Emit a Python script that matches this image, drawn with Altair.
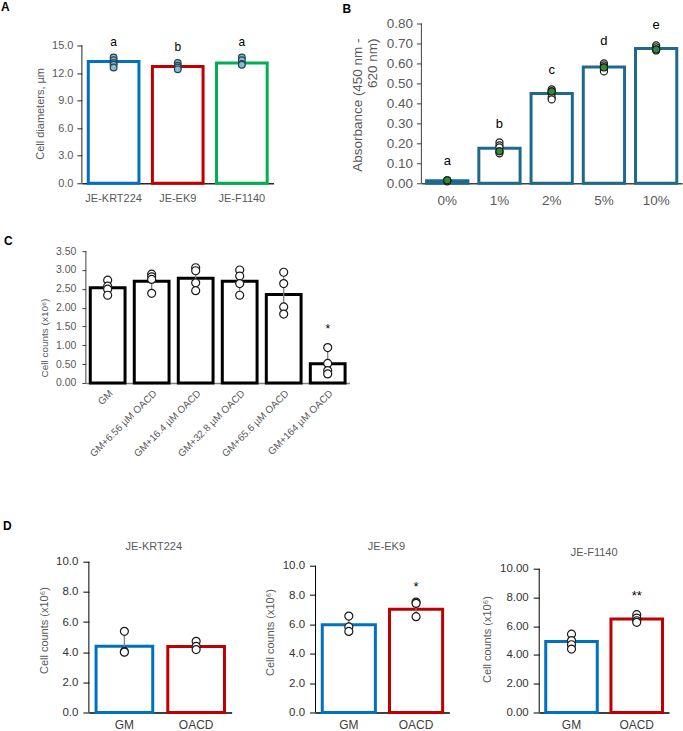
import altair as alt
import pandas as pd

FONT = "Liberation Sans"
GRAY = "#595959"
DARK = "#262626"

# ---------------- A: cell diameters ----------------
a_cats = ["JE-KRT224", "JE-EK9", "JE-F1140"]
a_means = [13.25, 12.7, 13.1]
a_colors = ["#0070C0", "#C00000", "#00B050"]
a_pts = [[13.7, 13.4, 13.1, 12.9, 12.6],
         [13.1, 12.8, 12.6, 12.4],
         [13.7, 13.4, 13.0, 12.9]]
a_letters = ["a", "b", "a"]
a_letter_y = [14.9, 14.4, 14.9]

# ---------------- B: absorbance ----------------
b_cats = ["0%", "1%", "2%", "5%", "10%"]
b_means = [0.012, 0.175, 0.45, 0.582, 0.675]
b_pts = [[0.015, 0.012, 0.010],
         [0.205, 0.19, 0.18, 0.16, 0.15],
         [0.47, 0.46, 0.45, 0.43, 0.42],
         [0.60, 0.59, 0.58, 0.57, 0.56],
         [0.69, 0.68, 0.67, 0.665]]
b_green = [[1, 0, 0], [0, 0, 0, 1, 0], [0, 1, 0, 0, 0], [0, 0, 1, 0, 0], [0, 0, 1, 0]]
b_letters = ["a", "b", "c", "d", "e"]
b_letter_y = [0.09, 0.275, 0.545, 0.69, 0.77]

# ---------------- C: OACD dose ----------------
c_cats = ["GM", "GM+6.56 µM OACD", "GM+16.4 µM OACD", "GM+32.8 µM OACD",
          "GM+65.6 µM OACD", "GM+164 µM OACD"]
c_means = [2.53, 2.70, 2.78, 2.70, 2.35, 0.51]
c_sd = [0.17, 0.22, 0.29, 0.29, 0.52, 0.32]
c_pts = [[2.73, 2.57, 2.49, 2.33],
         [2.89, 2.82, 2.75, 2.38],
         [3.06, 2.98, 2.66, 2.45],
         [3.00, 2.84, 2.64, 2.33],
         [2.94, 2.64, 2.02, 1.83],
         [0.94, 0.52, 0.33, 0.24]]
c_sig = ["", "", "", "", "", "*"]
c_sig_y = 1.32

# ---------------- D: GM vs OACD per line ----------------
d_lines = ["JE-KRT224", "JE-EK9", "JE-F1140"]
d_cats = ["GM", "OACD"]
d_colors = ["#0070C0", "#C00000"]
d_means = [[4.39, 4.38], [5.97, 7.03], [4.94, 6.50]]
d_sd = [[0.70, 0.28], [0.50, 0.55], [0.42, 0.24]]
d_pts = [[[5.38, 4.05, 4.00], [4.72, 4.39, 4.17]],
         [[6.57, 5.83, 5.52], [7.52, 7.43, 6.53]],
         [[5.45, 5.00, 4.71, 4.41], [6.80, 6.57, 6.38, 6.27]]]
d_sig = [["", ""], ["", "*"], ["", "**"]]
d_sig_y = [0, 8.25, 7.85]
d_fmt = [".1f", ".1f", ".2f"]

YTITLE_COUNTS = "Cell counts (x10⁶)"


def frame(w, h, box):
    """Invisible diagonal rule that fixes a cell's outer extent (left, top, right, bottom)."""
    left, top, right, bottom = box
    return (alt.Chart(pd.DataFrame({"v": [0]}))
            .mark_rule(opacity=0, strokeOpacity=0)
            .encode(x=alt.value(-left), y=alt.value(-top),
                    x2=alt.value(w + right), y2=alt.value(h + bottom)))


def spacer():
    return (alt.layer(frame(1, 1, (0, 0, 0, 0)))
            .properties(width=1, height=1))


def note(text, x, y, size, color="black", weight="normal", angle=0,
         align="center", baseline="middle", line_height=None):
    kw = dict(align=align, baseline=baseline, fontSize=size, color=color,
              fontWeight=weight, font=FONT)
    if angle:
        kw["angle"] = angle
    if isinstance(text, list):
        kw["lineBreak"] = "\n"
        text = "\n".join(text)
        if line_height:
            kw["lineHeight"] = line_height
    return (alt.Chart(pd.DataFrame({"t": [text]}))
            .mark_text(**kw)
            .encode(text="t:N", x=alt.value(x), y=alt.value(y)))


def bar_panel(cats, means, bar_colors, pts, width, frame_h, axis_h, ymax, yaxis, xaxis,
              box, axis_color, point_size=60, point_stroke="black", point_fill=None,
              sd=None, letters=None, letter_y=None, letter_size=12, notes=()):
    # the value axis occupies the lower axis_h pixels of a frame_h-tall plot
    ytop = ymax * frame_h / axis_h
    x_enc = alt.X("cat:N", sort=cats,
                  scale=alt.Scale(domain=cats, paddingInner=0.21, paddingOuter=0.1),
                  axis=xaxis, title=None)

    def y_enc(field):
        return alt.Y(field, type="quantitative",
                     scale=alt.Scale(domain=[0, ytop], nice=False, zero=True),
                     axis=yaxis)

    bars_df = pd.DataFrame({"cat": cats, "val": means, "col": bar_colors})
    layers = [
        alt.Chart(bars_df).mark_bar(fill="white", strokeWidth=3)
        .encode(x=x_enc, y=y_enc("val"), stroke=alt.Stroke("col:N", scale=None))
    ]
    # value-axis line, from 0 to the top tick
    layers.append(alt.Chart(pd.DataFrame({"lo": [0], "hi": [ymax]}))
                  .mark_rule(color=axis_color, strokeWidth=1)
                  .encode(x=alt.value(0), y=y_enc("lo"), y2="hi:Q"))
    if sd is not None:
        err_df = pd.DataFrame({"cat": cats,
                               "lo": [m - s for m, s in zip(means, sd)],
                               "hi": [m + s for m, s in zip(means, sd)]})
        layers.append(alt.Chart(err_df).mark_rule(color="#808080", strokeWidth=1.3)
                      .encode(x=x_enc, y=y_enc("lo"), y2="hi:Q"))
    rows = []
    for i, (c, vals) in enumerate(zip(cats, pts)):
        for v in vals:
            rows.append({"cat": c, "val": v})
    pts_df = pd.DataFrame(rows)
    layers.append(alt.Chart(pts_df).mark_point(shape="circle", filled=True,
                                               fill=point_fill or "white",
                                               stroke=point_stroke, strokeWidth=1.2,
                                               size=point_size, opacity=1)
                  .encode(x=x_enc, y=y_enc("val")))
    if letters is not None:
        let_df = pd.DataFrame({"cat": cats, "val": letter_y, "t": letters})
        layers.append(alt.Chart(let_df).mark_text(baseline="alphabetic", fontSize=letter_size,
                                                  color="black", font=FONT)
                      .encode(x=x_enc, y=y_enc("val"), text="t:N"))
    layers.extend(notes)
    layers.append(frame(width, frame_h, box))
    return layers, x_enc, y_enc


def value_axis(values, fmt, color, label_color, label_size, tick, pad):
    return alt.Axis(values=values, format=fmt, domain=False, tickColor=color, tickSize=tick,
                    labelColor=label_color, labelFontSize=label_size, labelPadding=pad,
                    title="")


# ---- panel A (frame 192 x 160, axis occupies lower 138 px) ----
a_layers, _, _ = bar_panel(
    a_cats, a_means, a_colors, a_pts, 192, 160, 138, 15,
    value_axis([0, 3, 6, 9, 12, 15], ".1f", DARK, GRAY, 11, 5, 4),
    alt.Axis(labelAngle=0, ticks=False, domainColor=DARK, domainWidth=1.5,
             labelColor=GRAY, labelFontSize=11, labelPadding=9, title=""),
    box=(80, 23, 67, 32), axis_color=DARK,
    point_size=45, point_stroke="#1D4658", point_fill="#8DBBCB",
    letters=a_letters, letter_y=a_letter_y, letter_size=12,
    notes=[note("A", -81, -13, 12, weight="bold", align="left", baseline="alphabetic"),
           note("Cell diameters, µm", -41, 90.5, 11, color=GRAY, angle=270)])
panel_a = alt.layer(*a_layers).properties(width=192, height=160)

# ---- panel B ----
b_layers, b_x, b_y = bar_panel(
    b_cats, b_means, ["#1E6A8D"] * 5, b_pts, 261, 160, 160, 0.8,
    value_axis([0, 0.1, 0.2, 0.3, 0.4, 0.5, 0.6, 0.7, 0.8], ".2f", "#404040", GRAY, 13.5, 5, 4),
    alt.Axis(labelAngle=0, ticks=False, domainColor="#404040", domainWidth=1.5,
             labelColor=GRAY, labelFontSize=13.5, labelPadding=10, title=""),
    box=(81, 23, 1, 32), axis_color="#404040",
    point_size=50, point_stroke="#1A1A1A",
    letters=b_letters, letter_y=b_letter_y, letter_size=13,
    notes=[note("B", -79, -11, 12, weight="bold", align="left", baseline="alphabetic"),
           note(["Absorbance (450 nm -", "620 nm)"], -70, 15, 13.5, color=GRAY, angle=270,
                align="right", baseline="top", line_height=15)])
# green-filled replicate points drawn over the open ones
b_green_rows = [{"cat": c, "val": v}
                for c, vals, flags in zip(b_cats, b_pts, b_green)
                for v, f in zip(vals, flags) if f]
b_layers.insert(-1, alt.Chart(pd.DataFrame(b_green_rows))
                .mark_point(shape="circle", filled=True, fill="#2E8B3A", stroke="#1A1A1A",
                            strokeWidth=1.1, size=50, opacity=1)
                .encode(x=b_x, y=b_y("val")))
panel_b = alt.layer(*b_layers).properties(width=261, height=160)

# ---- panel C ----
c_layers, _, _ = bar_panel(
    c_cats, c_means, ["black"] * 6, c_pts, 264, 132, 132, 3.5,
    value_axis([0, 0.5, 1, 1.5, 2, 2.5, 3, 3.5], ".2f", "#404040", GRAY, 10.5, 4, 6),
    alt.Axis(labelAngle=-45, ticks=False, domainColor="#808080", domainWidth=1.5,
             labelColor=GRAY, labelFontSize=10, labelPadding=5, title=""),
    box=(85, 36, 333, 122), axis_color="#404040",
    point_size=64, point_stroke="#1A1A1A", sd=c_sd,
    letters=c_sig, letter_y=[c_sig_y] * len(c_cats), letter_size=12,
    notes=[note("C", -82, -6, 12, weight="bold", align="left", baseline="alphabetic"),
           note(YTITLE_COUNTS, -41, 87, 10, color=GRAY, angle=270)])
panel_c = alt.layer(*c_layers).properties(width=264, height=132)


# ---- panel D (frames 151 px tall; value axes of 151, 147 and 144 px) ----
def d_panel(k, width, axis_h, box, title_xy, ytitle_xy, letter=None):
    notes = [note(d_lines[k], title_xy[0], title_xy[1], 11, color=GRAY),
             note(YTITLE_COUNTS, ytitle_xy[0], ytitle_xy[1], 11, color=GRAY, angle=270)]
    if letter:
        notes.append(note(letter, -86, -32, 12, weight="bold", align="left",
                          baseline="alphabetic"))
    layers, _, _ = bar_panel(
        d_cats, d_means[k], d_colors, d_pts[k], width, 151, axis_h, 10,
        value_axis([0, 2, 4, 6, 8, 10], d_fmt[k], "black", "#333333", 11.5, 6, 5),
        alt.Axis(labelAngle=0, ticks=False, domainColor="black", domainWidth=1.5,
                 labelColor="#404040", labelFontSize=12, labelPadding=7, title=""),
        box=box, axis_color="black", point_size=64, point_stroke="#1A1A1A", sd=d_sd[k],
        letters=d_sig[k], letter_y=[d_sig_y[k]] * 2, letter_size=13, notes=notes)
    return alt.layer(*layers).properties(width=width, height=151)


panel_d1 = d_panel(0, 143, 151, (88, 57, 4, 18), (65, -15), (-44, 69), letter="D")
panel_d2 = d_panel(1, 134, 147, (80, 57, 8, 18), (71, -15), (-45, 71))
panel_d3 = d_panel(2, 130, 144, (82, 57, 13, 18), (55, -9), (-51, 78))

row1 = alt.hconcat(spacer(), panel_a, panel_b, spacing=0)
row2 = alt.hconcat(spacer(), panel_c, spacing=0)
row3 = alt.hconcat(spacer(), panel_d1, panel_d2, panel_d3, spacing=0)

chart = (alt.vconcat(row1, row2, row3, spacing=0)
         .properties(padding=0)
         .configure_view(strokeWidth=0)
         .configure_axis(grid=False, labelFont=FONT, titleFont=FONT)
         .configure_text(font=FONT))

chart.save("out.html", embed_options={"renderer": "svg", "actions": False})
